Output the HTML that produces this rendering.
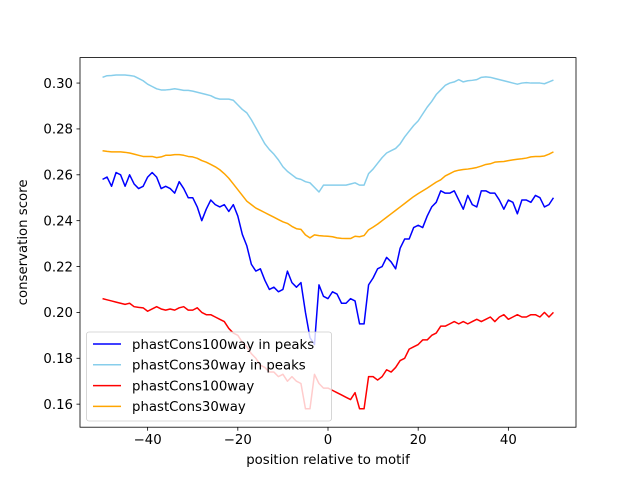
<!DOCTYPE html>
<html><head><meta charset="utf-8"><style>
html,body{margin:0;padding:0;background:#fff;}
svg{display:block;font-family:"DejaVu Sans","Liberation Sans",sans-serif;}
</style></head><body>
<svg id="chart" width="640" height="480" viewBox="0 0 640 480" xmlns="http://www.w3.org/2000/svg"></svg>
<script>
const positions = [];
for (let i = -50; i <= 50; i++) positions.push(i);
const seriesNames = ["phastCons100way in peaks","phastCons30way in peaks","phastCons100way","phastCons30way"];
const seriesColors = ["#0000ff","#87ceeb","#ff0000","#ffa500"];
const cons100peaks = [
.258,.259,.255,.261,.260,.255,.260,.256,.254,.255,
.259,.261,.259,.254,.255,.254,.252,.257,.254,.250,
.250,.246,.240,.245,.249,.247,.246,.247,.244,.247,
.242,.234,.229,.221,.218,.219,.214,.210,.211,.209,
.210,.218,.213,.211,.213,.200,.189,.186,.212,.207,
.206,.209,.208,.204,.204,.206,.205,.195,.195,.212,
.215,.219,.220,.224,.222,.219,.228,.232,.232,.237,
.238,.237,.242,.246,.248,.253,.252,.252,.253,.249,
.245,.251,.247,.246,.253,.253,.252,.252,.249,.245,
.249,.248,.243,.249,.249,.248,.251,.250,.246,.247,.250];
const cons30peaks = [
.3025,.3032,.3033,.3035,.3035,.3035,.3033,.303,.302,.301,
.2995,.2985,.2975,.297,.297,.2972,.2975,.2972,.2968,.2968,
.2965,.296,.2955,.295,.2945,.2935,.293,.293,.293,.2925,
.2905,.2885,.287,.284,.2805,.277,.2735,.271,.269,.2665,
.2635,.2615,.26,.2585,.258,.257,.2565,.2545,.2525,.2555,
.2555,.2555,.2555,.2555,.2555,.256,.2565,.2555,.2555,.2605,
.2625,.265,.2675,.2695,.2705,.2715,.2735,.2765,.279,.2815,
.2835,.2865,.2895,.292,.295,.297,.299,.300,.3005,.3015,
.3005,.301,.3012,.3015,.3025,.3027,.3025,.302,.3015,.301,
.3005,.300,.2995,.300,.3002,.300,.300,.300,.2997,.3005,.3013];
const cons100 = [
.206,.2055,.205,.2045,.204,.2035,.204,.2025,.2022,.202,
.2005,.2015,.2025,.2015,.201,.2015,.201,.202,.2025,.201,
.201,.202,.200,.199,.199,.198,.197,.196,.193,.191,
.190,.187,.185,.182,.180,.177,.176,.174,.174,.172,
.173,.170,.172,.170,.169,.158,.158,.173,.169,.167,
.167,.166,.165,.164,.163,.162,.165,.158,.158,.172,
.172,.1705,.172,.175,.174,.176,.179,.180,.184,.185,
.186,.188,.188,.190,.191,.194,.194,.195,.196,.195,
.196,.195,.196,.197,.196,.197,.198,.196,.198,.199,
.197,.198,.199,.198,.198,.199,.199,.198,.200,.198,.200];
const cons30 = [
.2705,.2702,.270,.270,.270,.2698,.2695,.269,.2685,.268,
.268,.268,.2675,.2678,.2685,.2685,.2688,.2688,.2685,.268,
.2678,.2672,.2662,.2655,.2645,.2635,.2622,.2605,.2585,.256,
.2535,.251,.2485,.247,.2455,.2445,.2435,.2425,.2415,.2405,
.2395,.2388,.2375,.2365,.2362,.2338,.2325,.2338,.2335,.2333,
.2332,.233,.2325,.2323,.2322,.2322,.2332,.233,.2335,.236,
.2372,.2385,.240,.2415,.243,.2445,.246,.2475,.249,.2505,
.2518,.253,.2542,.2555,.2568,.2578,.2595,.2605,.2615,.262,
.2623,.2625,.2628,.2632,.2638,.2645,.2648,.2655,.2657,.2658,
.2662,.2665,.2668,.267,.2673,.2678,.268,.268,.2682,.269,.270];
const xTicks = [-40,-20,0,20,40];
const xTickLabels = ["\u221240","\u221220","0","20","40"];
const yTicks = [0.16,0.18,0.20,0.22,0.24,0.26,0.28,0.30];
const yTickLabels = ["0.16","0.18","0.20","0.22","0.24","0.26","0.28","0.30"];

const L=80,R=576,T=57.6,B=427.2;
const xMin=-55,xMax=55,yMin=0.14995,yMax=0.3111;
const sx=v=>L+(v-xMin)/(xMax-xMin)*(R-L);
const sy=v=>B-(v-yMin)/(yMax-yMin)*(B-T);
const NS="http://www.w3.org/2000/svg";
const svg=document.getElementById('chart');
function mk(tag,attrs,parent){const e=document.createElementNS(NS,tag);for(const k in attrs)e.setAttribute(k,attrs[k]);(parent||svg).appendChild(e);return e;}

const allSeries=[cons100peaks,cons30peaks,cons100,cons30];
const lineKeys=["line-phastcons100way-in-peaks","line-phastcons30way-in-peaks","line-phastcons100way","line-phastcons30way"];
allSeries.forEach((s,i)=>{
  const d=s.map((v,j)=>(j?'L':'M')+sx(positions[j]).toFixed(2)+','+sy(v).toFixed(2)).join('');
  const p=mk('path',{d:d,fill:'none',stroke:seriesColors[i],'stroke-width':1.5,'stroke-linejoin':'round'});
  
  
});

const frame=mk('rect',{x:L,y:T,width:R-L,height:B-T,fill:'none',stroke:'#000','stroke-width':0.8});



xTicks.forEach((t,i)=>{
  const x=sx(t);
  const tk=mk('line',{x1:x,x2:x,y1:B,y2:B+3.5,stroke:'#000','stroke-width':0.8});
  
  
  const tx=mk('text',{x:x,y:B+17,'text-anchor':'middle','font-size':'13.3px',fill:'#000'});
  tx.textContent=xTickLabels[i];
  
  
});
yTicks.forEach((t,i)=>{
  const y=sy(t);
  const tk=mk('line',{x1:L-3.5,x2:L,y1:y,y2:y,stroke:'#000','stroke-width':0.8});
  
  
  const tx=mk('text',{x:L-7,y:y+4.8,'text-anchor':'end','font-size':'13.3px',fill:'#000'});
  tx.textContent=yTickLabels[i];
  
  
});

const xl=mk('text',{x:(L+R)/2,y:464,'text-anchor':'middle','font-size':'13.3px',fill:'#000'});
xl.textContent='position relative to motif';


const yl=mk('text',{x:0,y:0,'text-anchor':'middle','font-size':'13.3px',fill:'#000',transform:'translate(27,'+((T+B)/2)+') rotate(-90)'});
yl.textContent='conservation score';



const lg=mk('g',{});


mk('rect',{x:86.5,y:332,width:245,height:89,rx:2.5,fill:'#fff','fill-opacity':0.8,stroke:'#ccc','stroke-width':0.8},lg);
seriesNames.forEach((n,i)=>{
  const y=344+i*20.8;
  const ln=mk('line',{x1:93,x2:121,y1:y,y2:y,stroke:seriesColors[i],'stroke-width':1.5},lg);
  
  
  const t=mk('text',{x:132,y:y+4.8,'font-size':'13.3px',fill:'#000'},lg);
  t.textContent=n;
  
  
});
</script>
</body></html>
